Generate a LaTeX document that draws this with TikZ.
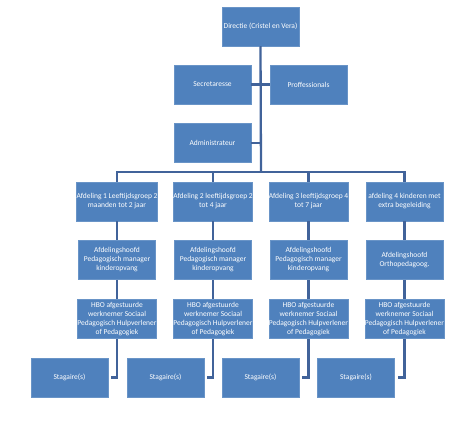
\documentclass[tikz,border=0pt]{standalone}
\usepackage{fontspec}
\setmainfont{Carlito}
\begin{document}
\begin{tikzpicture}[x=1pt,y=-1pt,
  box/.style={rectangle,fill=boxblue,draw=boxblue!85!white,line width=0.5pt,
    minimum width=77pt,minimum height=39pt,inner sep=0pt,text=white,align=center,
    font=\fontsize{7.5}{9}\selectfont},
  link/.style={draw=lineblue,line width=2.3pt}]
\definecolor{boxblue}{HTML}{4F81BD}
\definecolor{lineblue}{HTML}{41639A}
\useasboundingbox (0,0) rectangle (474,441);
\fill[white] (0,0) rectangle (474,441);
% top
\node[box] (dir) at (260.5,26.5) {Directie (Cristel en Vera)};
\node[box] (sec) at (212.5,84.5) {Secretaresse};
\node[box] (pro) at (308.5,84.5) {Proffessionals};
\node[box] (adm) at (212.5,143) {Administrateur};
\coordinate (bus) at (261,172);
\coordinate (aj) at (261,143);
\draw[link] (dir.south) -- (bus);
\draw[link] (sec.east) -- (pro.west);
\draw[link] (adm.east) -- (aj);
% departments
\node[box] (a1) at (117,201.5) {Afdeling 1 Leeftijdsgroep 2\\maanden tot 2 jaar};
\node[box] (a2) at (213,201.5) {Afdeling 2 leeftijdsgroep 2\\tot 4 jaar};
\node[box] (a3) at (308.5,201.5) {Afdeling 3 leeftijdsgroep 4\\tot 7 jaar};
\node[box] (a4) at (404.5,201.5) {afdeling 4 kinderen met\\extra begeleiding};
\draw[link] (a1.north) |- (bus) -| (a4.north);
\draw[link] (a2.north) -- (a2.north |- bus);
\draw[link] (a3.north) -- (a3.north |- bus);
% heads
\node[box] (h1) at (117,260) {Afdelingshoofd\\Pedagogisch manager\\kinderopvang};
\node[box] (h2) at (213,260) {Afdelingshoofd\\Pedagogisch manager\\kinderopvang};
\node[box] (h3) at (308.5,260) {Afdelingshoofd\\Pedagogisch manager\\kinderopvang};
\node[box] (h4) at (404.5,260) {Afdelingshoofd\\Orthopedagoog.};
% HBO
\node[box] (b1) at (117,319) {HBO afgestuurde\\werknemer Sociaal\\Pedagogisch Hulpverlener\\of Pedagogiek};
\node[box] (b2) at (213,319) {HBO afgestuurde\\werknemer Sociaal\\Pedagogisch Hulpverlener\\of Pedagogiek};
\node[box] (b3) at (308.5,319) {HBO afgestuurde\\werknemer Sociaal\\Pedagogisch Hulpverlener\\of Pedagogiek};
\node[box] (b4) at (404.5,319) {HBO afgestuurde\\werknemer Sociaal\\Pedagogisch Hulpverlener\\of Pedagogiek};
% stagiaires
\node[box] (s1) at (69.5,377.5) {Stagaire(s)};
\node[box] (s2) at (165.5,377.5) {Stagaire(s)};
\node[box] (s3) at (260.5,377.5) {Stagaire(s)};
\node[box] (s4) at (356,377.5) {Stagaire(s)};
\foreach \i in {1,2,3,4}{
  \draw[link] (a\i.south) -- (h\i.north);
  \draw[link] (h\i.south) -- (b\i.north);
  \draw[link] (b\i.south) |- ([xshift=3pt]s\i.east);
}
\end{tikzpicture}
\end{document}
